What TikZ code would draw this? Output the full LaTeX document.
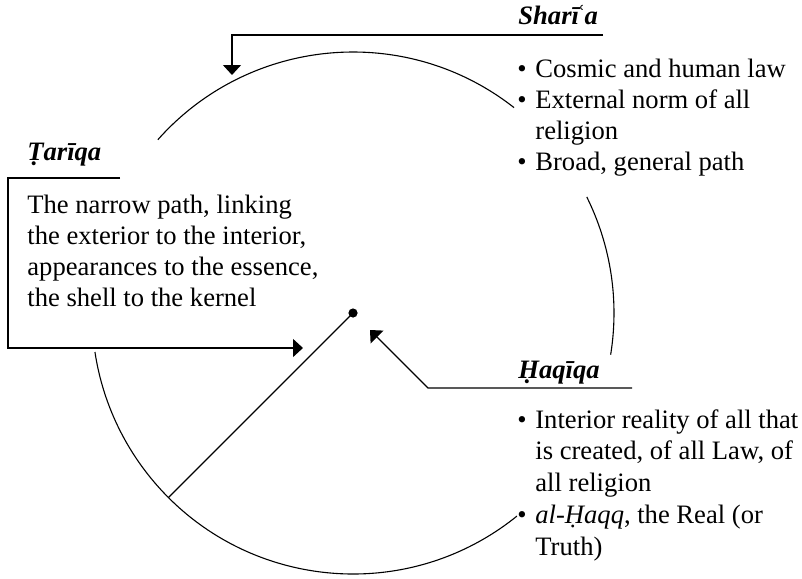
\documentclass[tikz,border=0pt]{standalone}
\usepackage{fontspec}
\setmainfont{Liberation Serif}
\usetikzlibrary{arrows.meta,positioning}

\begin{document}
\begin{tikzpicture}[
    x=0.5pt, y=-0.5pt,
    lbl/.style={inner sep=0pt, font=\fontsize{13.3}{15.5}\selectfont\bfseries\itshape},
    body/.style={inner sep=0pt, font=\fontsize{13.3}{15.5}\selectfont},
    arrow/.style={-{Triangle[width=9pt,length=5pt]}, line width=0.65pt},
    rim/.style={line width=0.55pt}
]
\useasboundingbox (0,0) rectangle (802,578);

% the circle, broken where the texts stand
\coordinate (ctr) at (353,313);
\draw[rim] (ctr) ++(221.6:261) arc[start angle=221.6, end angle=308.1, radius=261];
\draw[rim] (ctr) ++(333.6:261) arc[start angle=333.6, end angle=369.2, radius=261];
\draw[rim] (ctr) ++(51.1:261) arc[start angle=51.1, end angle=171.4, radius=261];
\node[circle, fill, inner sep=0pt, minimum size=4.6pt] (hub) at (ctr) {};
\coordinate (edge) at ([shift={(135:261)}]ctr);
\draw[rim] (hub.center) -- (edge);

% Shari'a
\node[lbl, anchor=base west] (sharLbl) at (518,25) {Sharī\kern-1.6ptʿa};
\node[body, anchor=base west] (sharList) at (517,77) {%
  \begin{tabular}[t]{@{}p{9pt}@{}l@{}}
  \textbullet & Cosmic and human law\\
  \textbullet & External norm of all\\
              & religion\\
  \textbullet & Broad, general path
  \end{tabular}};
\coordinate (sharFoot) at (603,35);
\coordinate (sharTip) at (232,75);
\draw[arrow] (sharFoot) -| (sharTip);

% Tariqa
\node[lbl, anchor=base west] (tarLbl) at (27,160) {Ṭarīqa};
\node[body, anchor=base west] (tarBody) at (27,213) {%
  \begin{tabular}[t]{@{}l@{}}
  The narrow path, linking\\
  the exterior to the interior,\\
  appearances to the essence,\\
  the shell to the kernel
  \end{tabular}};
\coordinate (tarTop) at (120,178);
\coordinate (tarCorner) at (8,348);
\coordinate (tarTip) at (303,348);
\draw[arrow] (tarTop) -| (tarCorner) -- (tarTip);

% Haqiqa
\node[lbl, anchor=base west] (haqLbl) at (518,378) {Ḥaqīqa};
\node[body, anchor=base west, font=\fontsize{13.3}{15.9}\selectfont] (haqList) at (517,428) {%
  \begin{tabular}[t]{@{}p{9pt}@{}l@{}}
  \textbullet & Interior reality of all that\\
              & is created, of all Law, of\\
              & all religion\\
  \textbullet & \textit{al-Ḥaqq}, the Real (or\\
              & Truth)
  \end{tabular}};
\coordinate (haqFoot) at (632,388);
\coordinate (haqBend) at (428,388);
\coordinate (haqTip) at (370,330);
\draw[arrow] (haqFoot) -- (haqBend) -- (haqTip);
\end{tikzpicture}
\end{document}
